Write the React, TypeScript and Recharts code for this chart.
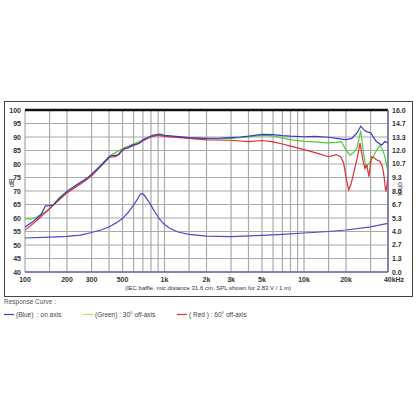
import { CartesianGrid, Line, LineChart, ReferenceLine, XAxis, YAxis } from "recharts";

const FREQ_TICKS = [
  100, 150, 200, 300, 400, 500, 600, 700, 800, 900, 1000, 1500, 2000, 3000, 4000, 5000, 6000, 7000,
  8000, 9000, 10000, 15000, 20000, 30000, 40000,
];
const FREQ_LABELS: Record<number, string> = {
  100: "100",
  200: "200",
  300: "300",
  500: "500",
  1000: "1k",
  2000: "2k",
  3000: "3k",
  5000: "5k",
  10000: "10k",
  20000: "20k",
  40000: "40kHz",
};
const DB_TICKS = [40, 45, 50, 55, 60, 65, 70, 75, 80, 85, 90, 95, 100];
const OHM_TICKS = [0, 1.333, 2.667, 4, 5.333, 6.667, 8, 9.333, 10.667, 12, 13.333, 14.667, 16];

// on axis (blue)
const blueFreq = [
  100, 115, 130, 140, 150, 160, 175, 200, 230, 250, 280, 300, 340, 380, 410, 440, 470, 490, 520, 550,
  580, 620, 660, 700, 760, 820, 880, 930, 1000, 1200, 1500, 2000, 2500, 3000, 3500, 4000, 5000, 6000,
  7000, 8000, 10000, 12000, 15000, 18000, 20000, 22000, 24000, 25500, 26500, 28000, 30000, 33000,
  36000, 38000, 40000,
];
const blueDb = [
  56.7, 58.8, 61.2, 64.5, 64.6, 64.8, 67, 69.8, 72, 73.2, 74.8, 76.2, 78.8, 81.2, 83, 83.2, 83.4, 84.6,
  85.9, 86, 86.9, 87.3, 87.6, 89.1, 89.8, 90.6, 90.9, 91.1, 90.6, 90.2, 89.8, 89.5, 89.6, 89.8, 90, 90.3,
  91, 90.9, 90.5, 90.3, 90.1, 90.2, 89.9, 89.3, 89, 89.5, 91.5, 94, 93, 92, 91.6, 88.3, 87, 88.3, 87.8,
];

// 30° off-axis (green)
const greenFreq = [
  100, 110, 120, 135, 145, 155, 175, 200, 250, 300, 400, 500, 700, 900, 1000, 1500, 2000, 3000, 4000,
  5000, 6000, 7000, 8000, 10000, 12000, 14500, 17000, 18500, 19700, 21300, 23000, 24000, 25500, 26500,
  27800, 29500, 31300, 33500, 35000, 36500, 38000, 40000,
];
const greenDb = [
  59.8, 59.6, 60.2, 61.8, 62.6, 64, 67.5, 69.8, 73.1, 76, 82.9, 85.7, 88.9, 91, 90.5, 89.7, 89.4, 89.5,
  90, 90.6, 90.4, 89.6, 89, 88.4, 88.2, 87.8, 88, 88.3, 85.8, 83.2, 84.5, 86, 92.4, 85, 78.6, 80.5, 82.7,
  85.5, 86.8, 85.5, 82.7, 77.2,
];

// 60° off-axis (red)
const redFreq = [
  100, 120, 150, 200, 250, 300, 400, 450, 500, 600, 700, 800, 900, 1000, 1500, 2000, 3000, 4000, 5000,
  6000, 7000, 8000, 10000, 12000, 15000, 17000, 18300, 19200, 20200, 20900, 21700, 22400, 24000, 25200,
  26300, 27300, 28200, 29200, 30400, 31500, 33300, 35000, 36500, 37500, 38500, 39300, 40000,
];
const redDb = [
  55.5, 58.8, 63.5, 69.3, 72.6, 75.5, 82.4, 82.8, 85.3, 86.8, 88.5, 90.1, 90.6, 90.2, 89.5, 88.9, 88.8,
  88.3, 88.7, 88.2, 87.4, 86.6, 85.3, 84.2, 82.7, 83.5, 82.7, 80.5, 74, 70.4, 72.5, 75.3, 82, 87.7, 82,
  78.4, 79.6, 75.3, 82.7, 82.4, 81.5, 81, 79, 75.3, 69.8, 72, 76,
];

// impedance (ohm)
const zFreq = [
  100, 150, 200, 250, 300, 350, 400, 450, 500, 550, 600, 640, 670, 690, 710, 750, 800, 850, 900, 950,
  1000, 1100, 1250, 1500, 2000, 3000, 5000, 7000, 10000, 15000, 20000, 30000, 40000,
];
const zOhm = [
  3.36, 3.45, 3.52, 3.65, 3.9, 4.15, 4.45, 4.85, 5.28, 5.9, 6.6, 7.2, 7.65, 7.76, 7.65, 7.2, 6.6, 5.95,
  5.45, 5.0, 4.7, 4.3, 3.95, 3.72, 3.55, 3.5, 3.62, 3.72, 3.85, 4.0, 4.15, 4.45, 4.8,
];

const zip = (f: number[], v: number[]) => f.map((x, i) => ({ f: x, v: v[i] }));
const blueData = zip(blueFreq, blueDb);
const greenData = zip(greenFreq, greenDb);
const redData = zip(redFreq, redDb);
const zData = zip(zFreq, zOhm);

const FONT = "'Liberation Sans', Arial, sans-serif";
const BLUE = "#3b3bc4";
const GREEN = "#52cc3e";
const RED = "#de3232";
const AXIS = "#6a6ab0";
const TICK = { fontSize: 7, fontWeight: "bold", fill: "#333", fontFamily: FONT };

function FreqTick({ x, y, payload }: any) {
  const label = FREQ_LABELS[payload.value];
  if (!label) return null;
  const dx = payload.value === 40000 ? 6 : 0;
  return (
    <text x={x + dx} y={y + 10} textAnchor="middle" {...TICK}>
      {label}
    </text>
  );
}

function DbTick({ x, y, payload }: any) {
  return (
    <text x={x - 4} y={y + 2.5} textAnchor="end" {...TICK}>
      {payload.value}
    </text>
  );
}

function OhmTick({ x, y, payload }: any) {
  return (
    <text x={x + 4} y={y + 2.5} textAnchor="start" {...TICK}>
      {payload.value.toFixed(1)}
    </text>
  );
}

export default function App() {
  return (
    <div style={{ position: "absolute", left: 0, top: 0, width: 416, height: 416, background: "#fff", fontFamily: FONT }}>
      <div
        style={{
          position: "absolute",
          left: 4,
          top: 101,
          width: 407,
          height: 194,
          border: "1px solid #444",
        }}
      />
      <div style={{ position: "absolute", left: 0, top: 0 }}>
        <LineChart width={416} height={300} margin={{ top: 110, right: 0, left: 0, bottom: 0 }}>
          <CartesianGrid yAxisId="db" stroke="#aaaaaa" strokeWidth={1.2} />
          <XAxis
            dataKey="f"
            type="number"
            scale="log"
            domain={[100, 40000]}
            ticks={FREQ_TICKS}
            interval={0}
            height={28}
            tickSize={0}
            tickMargin={0}
            tick={<FreqTick />}
            axisLine={{ stroke: AXIS, strokeWidth: 1.5 }}
            allowDataOverflow
          />
          <YAxis
            yAxisId="db"
            width={25}
            domain={[40, 100]}
            ticks={DB_TICKS}
            interval={0}
            tickSize={0}
            tickMargin={0}
            axisLine={false}
            tick={<DbTick />}
          />
          <YAxis
            yAxisId="z"
            orientation="right"
            width={28}
            domain={[0, 16]}
            ticks={OHM_TICKS}
            interval={0}
            tickSize={0}
            tickMargin={0}
            axisLine={{ stroke: AXIS, strokeWidth: 1.5 }}
            tick={<OhmTick />}
          />
          <ReferenceLine yAxisId="db" y={100} stroke="#111" strokeWidth={2.5} />
          <Line yAxisId="db" data={greenData} dataKey="v" stroke={GREEN} strokeWidth={1.2} dot={false} isAnimationActive={false} />
          <Line yAxisId="db" data={redData} dataKey="v" stroke={RED} strokeWidth={1.2} dot={false} isAnimationActive={false} />
          <Line yAxisId="db" data={blueData} dataKey="v" stroke={BLUE} strokeWidth={1.2} dot={false} isAnimationActive={false} />
          <Line yAxisId="z" data={zData} dataKey="v" stroke="#4d4dc6" strokeWidth={1.2} dot={false} isAnimationActive={false} />
        </LineChart>
      </div>
      <div style={{ position: "absolute", left: 8, top: 187, fontSize: 7, color: "#333", transform: "rotate(-90deg)", transformOrigin: "left top" }}>
        dB
      </div>
      <div style={{ position: "absolute", left: 404, top: 182, fontSize: 7, color: "#333", transform: "rotate(90deg)", transformOrigin: "left top" }}>
        ohm
      </div>
      <div
        style={{
          position: "absolute",
          left: 0,
          width: 416,
          top: 285,
          textAlign: "center",
          fontSize: 6,
          color: "#333",
        }}
      >
        (IEC baffle, mic.distance 31.6 cm, SPL shown for 2.83 V / 1 m)
      </div>
      <div style={{ position: "absolute", left: 4, top: 298, fontSize: 6.5, color: "#555" }}>Response Curve :</div>
      {[
        { color: BLUE, text: "(Blue)  : on axis", left: 4 },
        { color: "#b8dc5c", text: "(Green) : 30° off-axis", left: 83 },
        { color: RED, text: "( Red ) : 60° off-axis", left: 177 },
      ].map((item) => (
        <div
          key={item.text}
          style={{ position: "absolute", left: item.left, top: 310, height: 9, fontSize: 6.5, color: "#444", whiteSpace: "pre" }}
        >
          <svg width={11} height={9} style={{ verticalAlign: "top", marginRight: 1 }}>
            <line x1={0} x2={10} y1={4.5} y2={4.5} stroke={item.color} strokeWidth={1.2} />
          </svg>
          <span style={{ lineHeight: "9px", verticalAlign: "top" }}>{item.text}</span>
        </div>
      ))}
    </div>
  );
}
